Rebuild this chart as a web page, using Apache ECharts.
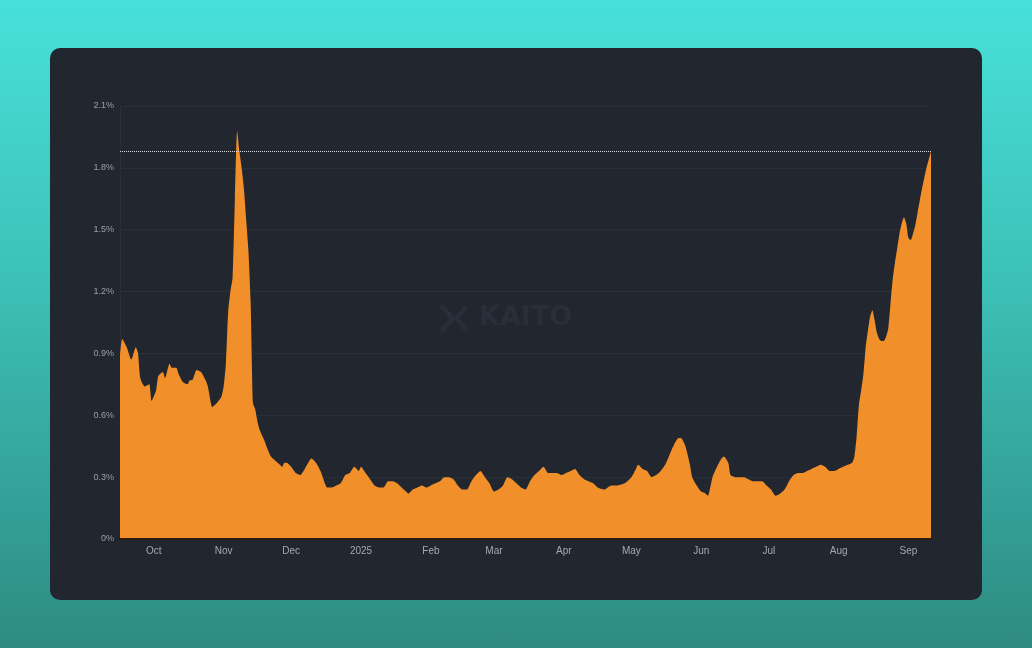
<!DOCTYPE html>
<html>
<head>
<meta charset="utf-8">
<script src="https://cdn.jsdelivr.net/npm/echarts@6/dist/echarts.min.js"></script>
<style>
  html, body { margin: 0; padding: 0; width: 1032px; height: 648px; overflow: hidden; }
  body { background: linear-gradient(180deg, #47e1da 0%, #3cbfb6 45%, #2e8b82 100%); }
  #panel { position: absolute; left: 50px; top: 48px; width: 932px; height: 552px; border-radius: 10px; background: #21262f; overflow: hidden; }
  #chart { width: 932px; height: 552px; }
</style>
</head>
<body>
<div id="panel"><div id="chart"></div></div>
<script>
const dates = [
'2024-09-16','2024-09-17','2024-09-19','2024-09-21','2024-09-23','2024-09-24','2024-09-25','2024-09-27','2024-09-29','2024-09-30',
'2024-10-02','2024-10-03','2024-10-05','2024-10-06','2024-10-08','2024-10-09','2024-10-11','2024-10-12','2024-10-14','2024-10-16',
'2024-10-17','2024-10-18','2024-10-20','2024-10-22','2024-10-24','2024-10-25','2024-10-27','2024-10-28','2024-10-29','2024-10-31',
'2024-11-01','2024-11-02','2024-11-03','2024-11-04','2024-11-05','2024-11-06','2024-11-07','2024-11-08','2024-11-09','2024-11-10',
'2024-11-11','2024-11-12','2024-11-13','2024-11-14','2024-11-15','2024-11-16','2024-11-17','2024-11-19','2024-11-20','2024-11-22',
'2024-11-24','2024-11-26','2024-11-27','2024-11-28','2024-11-29','2024-12-01','2024-12-03','2024-12-05','2024-12-07','2024-12-10',
'2024-12-12','2024-12-14','2024-12-15','2024-12-17','2024-12-19','2024-12-21','2024-12-23','2024-12-25','2024-12-27','2024-12-29',
'2024-12-31','2025-01-01','2025-01-03','2025-01-05','2025-01-07','2025-01-09','2025-01-11','2025-01-13','2025-01-15','2025-01-17',
'2025-01-19','2025-01-21','2025-01-22','2025-01-24','2025-01-26','2025-01-28','2025-01-30','2025-02-01','2025-02-03','2025-02-05',
'2025-02-07','2025-02-09','2025-02-11','2025-02-13','2025-02-15','2025-02-17','2025-02-19','2025-02-21','2025-02-23','2025-02-25',
'2025-02-27','2025-03-01','2025-03-03','2025-03-05','2025-03-07','2025-03-09','2025-03-11','2025-03-13','2025-03-15','2025-03-17',
'2025-03-19','2025-03-21','2025-03-23','2025-03-25','2025-03-27','2025-03-29','2025-03-31','2025-04-02','2025-04-04','2025-04-06',
'2025-04-08','2025-04-10','2025-04-12','2025-04-14','2025-04-16','2025-04-19','2025-04-22','2025-04-25','2025-04-28','2025-05-01',
'2025-05-03','2025-05-04','2025-05-06','2025-05-08','2025-05-10','2025-05-12','2025-05-14','2025-05-16','2025-05-18','2025-05-20',
'2025-05-22','2025-05-23','2025-05-25','2025-05-27','2025-05-28','2025-05-30','2025-06-01','2025-06-03','2025-06-04','2025-06-05',
'2025-06-06','2025-06-08','2025-06-10','2025-06-11','2025-06-13','2025-06-14','2025-06-16','2025-06-18','2025-06-20','2025-06-22',
'2025-06-24','2025-06-26','2025-06-28','2025-06-30','2025-07-02','2025-07-04','2025-07-06','2025-07-08','2025-07-10','2025-07-12',
'2025-07-14','2025-07-16','2025-07-18','2025-07-20','2025-07-22','2025-07-24','2025-07-26','2025-07-28','2025-07-30','2025-08-01',
'2025-08-03','2025-08-05','2025-08-07','2025-08-08','2025-08-09','2025-08-10','2025-08-11','2025-08-12','2025-08-13','2025-08-14',
'2025-08-15','2025-08-16','2025-08-17','2025-08-18','2025-08-19','2025-08-20','2025-08-21','2025-08-22','2025-08-23','2025-08-24',
'2025-08-25','2025-08-26','2025-08-27','2025-08-28','2025-08-29','2025-08-30','2025-08-31','2025-09-01','2025-09-02','2025-09-03',
'2025-09-04','2025-09-05','2025-09-06','2025-09-07','2025-09-08','2025-09-09','2025-09-10','2025-09-11'
];
const shares = [
0.89,0.97,0.93,0.87,0.93,0.90,0.78,0.74,0.75,0.67,
0.72,0.79,0.81,0.78,0.85,0.83,0.83,0.80,0.76,0.75,
0.77,0.77,0.82,0.81,0.77,0.74,0.64,0.65,0.66,0.69,
0.74,0.85,1.10,1.20,1.27,1.65,1.98,1.88,1.80,1.70,
1.55,1.40,1.15,0.66,0.63,0.57,0.53,0.48,0.45,0.40,
0.38,0.36,0.35,0.37,0.37,0.35,0.32,0.31,0.34,0.39,
0.37,0.33,0.30,0.25,0.25,0.26,0.27,0.31,0.32,0.35,
0.33,0.35,0.32,0.29,0.26,0.25,0.25,0.28,0.28,0.27,
0.25,0.23,0.22,0.24,0.25,0.26,0.25,0.26,0.27,0.28,
0.30,0.30,0.29,0.26,0.24,0.24,0.28,0.31,0.33,0.30,
0.27,0.23,0.24,0.26,0.30,0.29,0.27,0.25,0.24,0.28,
0.31,0.33,0.35,0.32,0.32,0.32,0.31,0.32,0.33,0.34,
0.31,0.29,0.28,0.27,0.25,0.24,0.26,0.26,0.27,0.30,
0.34,0.36,0.34,0.33,0.30,0.31,0.33,0.36,0.41,0.46,
0.49,0.49,0.45,0.36,0.30,0.26,0.23,0.22,0.21,0.25,
0.30,0.35,0.39,0.40,0.37,0.31,0.30,0.30,0.30,0.29,
0.28,0.28,0.28,0.26,0.24,0.21,0.22,0.24,0.28,0.31,
0.32,0.32,0.33,0.34,0.35,0.36,0.35,0.33,0.33,0.34,
0.35,0.36,0.37,0.40,0.50,0.65,0.72,0.80,0.93,1.01,
1.08,1.11,1.06,1.00,0.97,0.96,0.96,0.98,1.02,1.14,
1.26,1.34,1.41,1.48,1.53,1.56,1.53,1.46,1.45,1.48,
1.52,1.58,1.64,1.70,1.75,1.80,1.84,1.88
];
const yTicks = [0, 0.3, 0.6, 0.9, 1.2, 1.5, 1.8, 2.1];
const monthNames = ['Jan','Feb','Mar','Apr','May','Jun','Jul','Aug','Sep','Oct','Nov','Dec'];
const xStart = '2024-09-16';
const xEnd = '2025-09-11';

const seriesData = dates.map((d, i) => [d, shares[i]]);
const lastValue = shares[shares.length - 1];

const chart = echarts.init(document.getElementById('chart'), null, { renderer: 'canvas' });
const wmColor = '#292e38';
chart.setOption({
  backgroundColor: 'transparent',
  animation: false,
  grid: { left: 70, right: 51, top: 58, bottom: 61, containLabel: false },
  xAxis: {
    type: 'time',
    min: xStart,
    max: xEnd,
    splitNumber: 12,
    axisLine: { show: true, lineStyle: { color: '#2a1d0c', width: 2 } },
    axisTick: { show: false },
    splitLine: { show: false },
    axisLabel: {
      color: '#a3a9b3',
      fontSize: 10,
      fontFamily: 'Liberation Sans, Arial, sans-serif',
      margin: 7,
      hideOverlap: false,
      formatter: function (val) {
        const d = new Date(val);
        if (d.getDate() !== 1) return '';
        return d.getMonth() === 0 ? String(d.getFullYear()) : monthNames[d.getMonth()];
      }
    },
    z: 10
  },
  yAxis: {
    type: 'value',
    min: yTicks[0],
    max: yTicks[yTicks.length - 1],
    interval: 0.3,
    axisLine: { show: true, lineStyle: { color: '#2a2f39', width: 1 } },
    axisTick: { show: false },
    splitLine: { show: true, lineStyle: { color: '#2a2f39', width: 1 } },
    axisLabel: {
      color: '#9aa0aa',
      fontSize: 9,
      fontFamily: 'Liberation Sans, Arial, sans-serif',
      margin: 6,
      formatter: function (v) { return v === 0 ? '0%' : (Math.round(v * 10) / 10).toFixed(1) + '%'; }
    }
  },
  graphic: [
    {
      type: 'group',
      left: 390, top: 256,
      children: [
        { type: 'polyline', shape: { points: [[2, 2], [12, 14], [2, 26]] }, style: { stroke: wmColor, lineWidth: 5, fill: null } },
        { type: 'polyline', shape: { points: [[26, 2], [16, 14], [26, 26]] }, style: { stroke: wmColor, lineWidth: 5, fill: null } },
        { type: 'rect', shape: { x: 0, y: 0, width: 4, height: 6 }, style: { fill: wmColor } },
        { type: 'rect', shape: { x: 0, y: 22, width: 4, height: 6 }, style: { fill: wmColor } }
      ]
    },
    {
      type: 'text',
      left: 429, top: 256,
      style: { text: 'KAITO', fill: wmColor, font: 'bold 27px "DejaVu Sans", sans-serif' }
    }
  ],
  series: [{
    type: 'line',
    data: seriesData,
    showSymbol: false,
    smooth: 0.2,
    lineStyle: { width: 0, color: '#f18f2b' },
    areaStyle: { color: '#f18f2b', opacity: 1 },
    markLine: {
      silent: true,
      symbol: ['none', 'none'],
      label: { show: false },
      lineStyle: { type: 'dotted', color: '#d8dce2', width: 1 },
      data: [{ yAxis: lastValue }]
    }
  }]
});
</script>
</body>
</html>
